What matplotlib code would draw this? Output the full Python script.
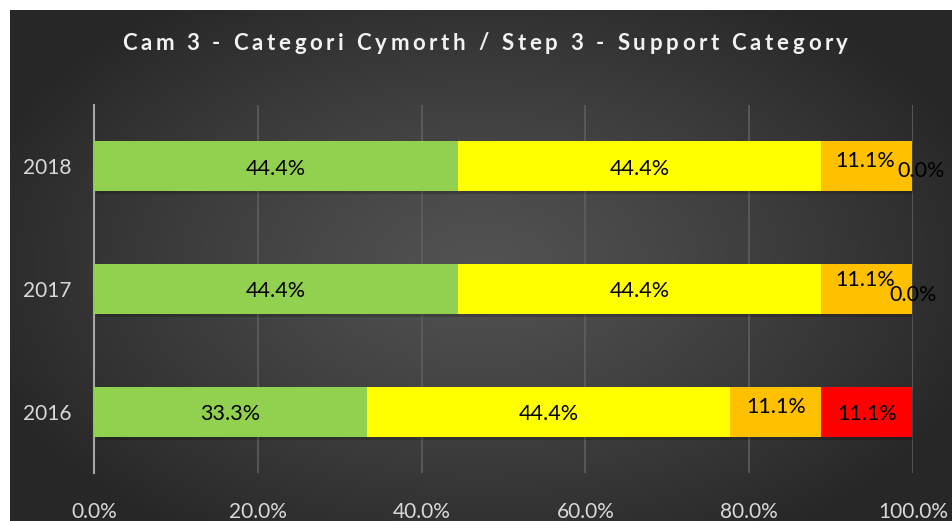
import numpy as np
import matplotlib
matplotlib.use("Agg")
import matplotlib.pyplot as plt
from matplotlib.ticker import FuncFormatter

# data
years = ["2016", "2017", "2018"]
green = [33.3, 44.4, 44.4]
yellow = [44.4, 44.4, 44.4]
orange = [11.1, 11.1, 11.1]
red = [11.1, 0.0, 0.0]
series = [green, yellow, orange, red]
colors = ["#92D050", "#FFFF00", "#FFC000", "#FF0000"]
title = "Cam 3 - Categori Cymorth / Step 3 - Support Category"

plt.rcParams["font.family"] = ["Lato", "DejaVu Sans"]

W, H = 952, 521
fig = plt.figure(figsize=(W / 100, H / 100), dpi=100, facecolor="white")

# radial gradient background of the chart area
bg = fig.add_axes([10 / W, 0, 1 - 10 / W, 1 - 10 / H])
yy, xx = np.mgrid[0:1:300j, 0:1:500j]
r = np.sqrt(((xx - 0.5) / 0.75) ** 2 + ((yy - 0.5) / 0.85) ** 2)
r = np.clip(r / 0.75, 0, 1)
c0, c1 = 0x52 / 255, 0x27 / 255
img = c0 + (c1 - c0) * r ** 1.2
bg.imshow(np.dstack([img, img, img]), aspect="auto", extent=[0, 1, 0, 1])
bg.set_axis_off()

ax = fig.add_axes([94 / W, (H - 473) / H, (913 - 94) / W, (473 - 105) / H])
ax.patch.set_alpha(0)

ypos = np.arange(len(years))
h = 50 / 123
left = np.zeros(len(years))
for vals, col in zip(series, colors):
    vals = np.array(vals)
    # soft shadow
    ax.barh(ypos - 0.025, vals, height=h, left=left + 0.4, color="black",
            alpha=0.18, zorder=2, linewidth=0)
    ax.barh(ypos, vals, height=h, left=left, color=col, zorder=3, linewidth=0)
    left += vals

# data labels (Excel-style placement)
fs = 15.5
def lab(x, y, v, dx=0.0, dy=0.0):
    ax.text(x + dx, y + dy, f"{v:.1f}%", ha="center", va="center",
            fontsize=fs, color="black", zorder=5)

for i in range(len(years)):
    lab(green[i] / 2, i, green[i], dy=-0.02)
    lab(green[i] + yellow[i] / 2, i, yellow[i], dy=-0.02)
lab(33.3 + 44.4 + 11.1 / 2, 0, orange[0], dy=0.04)
lab(99.9 - 11.1 / 2, 0, red[0], dy=-0.02)
lab(88.8 + 11.1 / 2 - 0.2, 1, orange[1], dy=0.07)
lab(100.0, 1, red[1], dx=0.0, dy=-0.05)
lab(88.8 + 11.1 / 2 - 0.2, 2, orange[2], dy=0.04)
lab(100.0, 2, red[2], dx=1.0, dy=-0.04)

ax.set_xlim(0, 100)
ax.set_ylim(-0.5, 2.5)
ax.set_xticks([0, 20, 40, 60, 80, 100])
ax.xaxis.set_major_formatter(FuncFormatter(lambda v, p: f"{v:.1f}%"))
ax.set_yticks(ypos)
ax.set_yticklabels(years)
ax.grid(axis="x", color="#5e5e5e", linewidth=1.2, zorder=0)
ax.set_axisbelow(True)
for s in ["top", "right", "bottom"]:
    ax.spines[s].set_visible(False)
ax.spines["left"].set_color("#a6a6a6")
ax.spines["left"].set_linewidth(1.5)
ax.spines["left"].set_zorder(1)
ax.tick_params(axis="both", length=0, labelsize=15, colors="#d9d9d9")
ax.tick_params(axis="x", pad=21)
ax.tick_params(axis="y", pad=16)

# title with letter spacing (drawn char by char)
renderer = fig.canvas.get_renderer()
tkw = dict(fontsize=16, fontweight="bold", color="#f2f2f2", va="center")
def text_width(s):
    if not s:
        return 0.0
    t = fig.text(0, 0, s.replace(" ", "\u00a0"), **tkw)
    w = t.get_window_extent(renderer).width
    t.remove()
    return w
natural = text_width(title)
target = 848 - 122
gap = (target - natural) / (len(title) - 1)
x0 = 485 - target / 2
for k, ch in enumerate(title):
    if ch == " ":
        continue
    xk = x0 + text_width(title[:k]) + gap * k
    fig.text(xk / W, 1 - 43 / H, ch, ha="left", **tkw)

fig.savefig("out.png", dpi=100, facecolor="white")
